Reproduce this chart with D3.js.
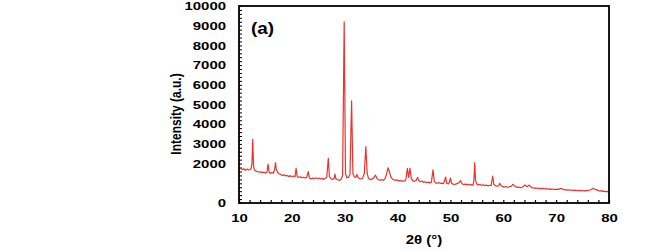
<!DOCTYPE html>
<html>
<head>
<meta charset="utf-8">
<script src="https://cdn.jsdelivr.net/npm/d3@7"></script>
<style>
  body { margin: 0; background: #fff; }
  text { font-family: "Liberation Sans", Arial, sans-serif; font-weight: bold; fill: #000; }
</style>
</head>
<body>
<svg id="visualisation" width="663" height="251"></svg>
<script>
// XRD pattern
var twoTheta = [10.0,10.3,10.6,10.9,11.2,11.5,11.8,12.1,12.3,12.45,12.6,12.75,12.9,13.2,13.5,13.8,14.1,14.4,14.7,15.0,
  15.3,15.5,15.7,15.9,16.2,16.5,16.75,16.9,17.05,17.3,17.6,17.9,18.2,18.5,18.8,19.1,19.4,19.7,20.0,20.3,
  20.6,20.8,21.0,21.3,21.6,21.9,22.2,22.5,22.8,23.1,23.3,23.6,23.9,24.2,24.5,24.8,25.1,25.4,25.7,26.0,
  26.3,26.6,26.9,27.1,27.4,27.7,28.0,28.15,28.35,28.7,29.0,29.3,29.6,29.9,30.15,30.4,30.7,31.0,31.3,31.55,
  31.8,32.1,32.3,32.5,32.8,33.1,33.4,33.7,34.0,34.25,34.5,34.8,35.1,35.4,35.8,36.1,36.4,36.7,37.0,37.3,
  37.6,37.9,38.2,38.45,38.7,39.0,39.3,39.6,39.9,40.2,40.5,40.8,41.1,41.4,41.6,41.85,42.1,42.35,42.6,42.9,
  43.2,43.5,43.8,44.0,44.3,44.6,44.9,45.2,45.5,45.8,46.1,46.4,46.7,46.95,47.2,47.5,47.8,48.1,48.4,48.7,
  49.1,49.3,49.6,49.8,50.0,50.2,50.5,50.8,51.1,51.5,51.9,52.2,52.5,52.8,53.1,53.4,53.7,54.0,54.3,54.45,
  54.6,54.75,55.0,55.3,55.6,55.9,56.2,56.5,56.8,57.1,57.4,57.7,58.0,58.2,58.5,58.8,59.1,59.3,59.6,59.9,
  60.2,60.5,60.8,61.1,61.5,61.8,62.1,62.4,62.7,63.0,63.3,63.6,64.1,64.5,64.9,65.2,65.5,65.8,66.1,66.4,
  66.7,67.0,67.3,67.6,67.9,68.2,68.5,68.8,69.1,69.4,69.7,70.0,70.4,70.9,71.3,71.6,71.9,72.2,72.5,72.8,
  73.1,73.4,73.7,74.0,74.3,74.6,74.9,75.2,75.5,75.8,76.1,76.4,76.7,77.0,77.3,77.6,77.9,78.2,78.5,78.8,
  79.1,79.4,79.7,80.0];
var intensity = [1700,1780,1690,1740,1660,1720,1680,1700,1760,2000,3230,1900,1680,1620,1600,1560,1590,1540,1570,1520,
  1560,1980,1580,1500,1540,1520,1700,2050,1720,1560,1470,1450,1400,1430,1380,1400,1350,1380,1340,1370,
  1330,1760,1350,1300,1330,1280,1310,1270,1300,1590,1280,1220,1260,1230,1280,1240,1270,1220,1250,1200,
  1240,1300,2270,1350,1230,1200,1240,1470,1220,1180,1150,1190,1400,9190,1500,1280,1300,1450,5190,1500,
  1330,1300,1450,1310,1240,1220,1260,1500,2860,1500,1250,1190,1210,1250,1420,1250,1180,1160,1190,1150,
  1220,1450,1790,1600,1350,1220,1180,1150,1170,1120,1150,1100,1130,1110,1250,1760,1300,1760,1250,1120,
  1100,1140,1300,1150,1080,1120,1050,1080,1030,1060,1020,1060,1680,1100,1020,1000,1040,990,1010,980,
  1320,1000,970,1050,1270,1000,960,940,970,1010,1130,980,940,960,920,950,910,930,900,1200,
  2050,1150,960,920,940,900,920,890,910,870,900,880,1370,950,880,850,870,1000,880,830,
  810,840,800,820,850,950,880,820,790,810,780,800,910,830,910,820,760,770,740,760,
  730,750,720,740,710,730,700,720,690,710,680,700,690,745,700,660,680,650,670,640,
  660,630,650,620,640,620,640,610,630,620,640,660,700,745,700,680,640,610,630,590,
  600,580,590,575];
var xTickLabels = [10, 20, 30, 40, 50, 60, 70, 80];
var yTickLabels = [0, 2000, 3000, 4000, 5000, 6000, 7000, 8000, 9000, 10000];

var vis = d3.select('#visualisation'),
    MARGINS = {top: 6, right: 54, bottom: 48, left: 239},
    WIDTH = 663,
    HEIGHT = 251,
    STRETCH = 1.3;

var xRange = d3.scaleLinear().domain([10, 80]).range([MARGINS.left, WIDTH - MARGINS.right]);
var yRange = d3.scaleLinear().domain([0, 10000]).range([HEIGHT - MARGINS.bottom, MARGINS.top]);

// minor ticks (inside)
var xMinor = d3.axisBottom(xRange).tickValues(d3.range(10, 80.1, 2)).tickSize(-3).tickFormat('');
var yMinor = d3.axisLeft(yRange).tickValues(d3.range(0, 10001, 200)).tickSize(-3).tickFormat('');

vis.append('g')
    .attr('transform', 'translate(0,' + (HEIGHT - MARGINS.bottom) + ')')
    .call(xMinor)
    .call(function(g){ g.select('.domain').remove(); g.selectAll('line').attr('stroke', '#000').attr('stroke-width', 1.2); });

vis.append('g')
    .attr('transform', 'translate(' + MARGINS.left + ',0)')
    .call(yMinor)
    .call(function(g){ g.select('.domain').remove(); g.selectAll('line').attr('stroke', '#000').attr('stroke-width', 1); });

// tick labels
var xAxis = d3.axisBottom(xRange).tickValues(xTickLabels).tickSize(0).tickPadding(11).tickFormat(d3.format('d'));
var yAxis = d3.axisLeft(yRange).tickValues(yTickLabels).tickSize(0).tickPadding(13).tickFormat(d3.format('d'));

vis.append('g')
    .attr('transform', 'translate(0,' + (HEIGHT - MARGINS.bottom) + ')')
    .call(xAxis)
    .call(function(g){
        g.select('.domain').remove();
        g.selectAll('text').attr('font-size', 11.5).attr('font-family', null).attr('transform', 'scale(' + STRETCH + ',1)');
    });

vis.append('g')
    .attr('transform', 'translate(' + MARGINS.left + ',0)')
    .call(yAxis)
    .call(function(g){
        g.select('.domain').remove();
        g.selectAll('text').attr('font-size', 11.5).attr('font-family', null)
            .attr('x', -13 / STRETCH).attr('transform', 'scale(' + STRETCH + ',1)');
    });

// the pattern
var lineData = [];
for (let i = 0; i < twoTheta.length; i++){
    lineData.push({x: twoTheta[i], y: intensity[i]});
}
var lineFunc = d3.line()
    .x(function(d){ return xRange(d.x); })
    .y(function(d){ return yRange(d.y); });

vis.append('path')
    .attr('d', lineFunc(lineData))
    .attr('stroke', '#e8352f')
    .attr('stroke-width', 1.2)
    .attr('stroke-linejoin', 'round')
    .attr('fill', 'none');

// frame
vis.append('rect')
    .attr('x', xRange(10))
    .attr('y', yRange(10000))
    .attr('width', xRange(80) - xRange(10))
    .attr('height', yRange(0) - yRange(10000))
    .attr('fill', 'none')
    .attr('stroke', '#000')
    .attr('stroke-width', 1.8);

// titles
vis.append('text')
    .attr('transform', 'translate(' + (((xRange(10) + xRange(80)) / 2)) + ',244) scale(1.2,1)')
    .attr('text-anchor', 'middle')
    .attr('font-size', 12.5)
    .text('2θ (°)');

vis.append('text')
    .attr('transform', 'translate(181,114) rotate(-90) scale(1,1.25)')
    .attr('text-anchor', 'middle')
    .attr('font-size', 12)
    .text('Intensity (a.u.)');

vis.append('text')
    .attr('transform', 'translate(251,34) scale(1.18,1)')
    .attr('font-size', 16)
    .text('(a)');
</script>
</body>
</html>
